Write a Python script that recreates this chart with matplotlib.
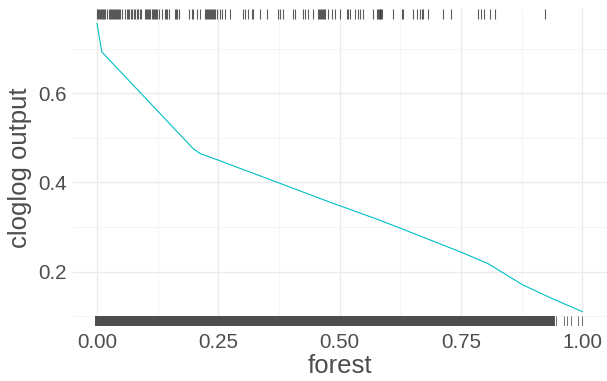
import numpy as np
import matplotlib.pyplot as plt
import matplotlib.transforms as mtransforms

# response curve for forest cover
forest = [0.000, 0.010, 0.088, 0.198, 0.212, 0.250, 0.274, 0.377, 0.479,
          0.578, 0.623, 0.751, 0.805, 0.877, 0.940, 1.000]
cloglog = [0.757, 0.693, 0.603, 0.476, 0.465, 0.450, 0.440, 0.398, 0.356,
           0.317, 0.298, 0.243, 0.218, 0.170, 0.138, 0.110]

# presence records (top rug)
presence = [0.000, 0.002, 0.004, 0.006, 0.008, 0.010, 0.012, 0.014, 0.016,
            0.021, 0.025, 0.027, 0.029, 0.031, 0.033, 0.035, 0.037, 0.039,
            0.041, 0.043, 0.045, 0.047, 0.051, 0.058, 0.061, 0.064, 0.067,
            0.070, 0.073, 0.076, 0.079, 0.082, 0.085, 0.088, 0.091, 0.099,
            0.101, 0.103, 0.105, 0.107, 0.109, 0.113, 0.115, 0.117, 0.119,
            0.121, 0.123, 0.128, 0.134, 0.140, 0.142, 0.144, 0.148, 0.160,
            0.163, 0.165, 0.169, 0.189, 0.195, 0.198, 0.206, 0.212, 0.222,
            0.224, 0.226, 0.228, 0.230, 0.232, 0.235, 0.237, 0.239, 0.241,
            0.243, 0.247, 0.253, 0.257, 0.263, 0.274, 0.300, 0.305, 0.311,
            0.319, 0.321, 0.335, 0.350, 0.372, 0.377, 0.383, 0.403, 0.407,
            0.424, 0.428, 0.434, 0.444, 0.455, 0.457, 0.459, 0.461, 0.463,
            0.465, 0.467, 0.469, 0.475, 0.484, 0.490, 0.500, 0.516, 0.518,
            0.521, 0.531, 0.537, 0.541, 0.547, 0.568, 0.576, 0.578, 0.580,
            0.582, 0.584, 0.586, 0.588, 0.609, 0.628, 0.630, 0.650, 0.660,
            0.665, 0.669, 0.671, 0.681, 0.712, 0.730, 0.784, 0.792, 0.798,
            0.809, 0.819, 0.922]

# background sample (bottom rug)
background = [
    0.000, 0.005, 0.010, 0.015, 0.020, 0.025, 0.030, 0.035, 0.040, 0.045,
    0.050, 0.055, 0.060, 0.065, 0.070, 0.075, 0.080, 0.085, 0.090, 0.095,
    0.100, 0.105, 0.110, 0.115, 0.120, 0.125, 0.130, 0.135, 0.140, 0.145,
    0.150, 0.155, 0.160, 0.165, 0.170, 0.175, 0.180, 0.185, 0.190, 0.195,
    0.200, 0.205, 0.210, 0.215, 0.220, 0.225, 0.230, 0.235, 0.240, 0.245,
    0.250, 0.255, 0.260, 0.265, 0.270, 0.275, 0.280, 0.285, 0.290, 0.295,
    0.300, 0.305, 0.310, 0.315, 0.320, 0.325, 0.330, 0.335, 0.340, 0.345,
    0.350, 0.355, 0.360, 0.365, 0.370, 0.375, 0.380, 0.385, 0.390, 0.395,
    0.400, 0.405, 0.410, 0.415, 0.420, 0.425, 0.430, 0.435, 0.440, 0.445,
    0.450, 0.455, 0.460, 0.465, 0.470, 0.475, 0.480, 0.485, 0.490, 0.495,
    0.500, 0.505, 0.510, 0.515, 0.520, 0.525, 0.530, 0.535, 0.540, 0.545,
    0.550, 0.555, 0.560, 0.565, 0.570, 0.575, 0.580, 0.585, 0.590, 0.595,
    0.600, 0.605, 0.610, 0.615, 0.620, 0.625, 0.630, 0.635, 0.640, 0.645,
    0.650, 0.655, 0.660, 0.665, 0.670, 0.675, 0.680, 0.685, 0.690, 0.695,
    0.700, 0.705, 0.710, 0.715, 0.720, 0.725, 0.730, 0.735, 0.740, 0.745,
    0.750, 0.755, 0.760, 0.765, 0.770, 0.775, 0.780, 0.785, 0.790, 0.795,
    0.800, 0.805, 0.810, 0.815, 0.820, 0.825, 0.830, 0.835, 0.840, 0.845,
    0.850, 0.855, 0.860, 0.865, 0.870, 0.875, 0.880, 0.885, 0.890, 0.895,
    0.900, 0.905, 0.910, 0.915, 0.920, 0.925, 0.930, 0.935, 0.940,
]
background_tail = [0.946, 0.963, 0.969, 0.977, 0.990, 1.000]

plt.rcParams['font.family'] = ['Liberation Sans', 'DejaVu Sans']

fig = plt.figure(figsize=(6.07, 3.81), dpi=100)
ax = fig.add_axes([72.7 / 607, 55 / 381, 534 / 607, 317 / 381])

# ggplot style expansion of 5% on both axes
ax.set_xlim(-0.05, 1.05)
lo, hi = min(cloglog), max(cloglog)
pad = 0.05 * (hi - lo)
ax.set_ylim(lo - pad, hi + pad)

ax.set_xticks([0, 0.25, 0.5, 0.75, 1.0])
ax.set_xticklabels(['0.00', '0.25', '0.50', '0.75', '1.00'])
ax.set_xticks([0.125, 0.375, 0.625, 0.875], minor=True)
ax.set_yticks([0.2, 0.4, 0.6])
ax.set_yticklabels(['0.2', '0.4', '0.6'])
ax.set_yticks([0.1, 0.3, 0.5, 0.7], minor=True)

ax.grid(which='major', color='#EBEBEB', linewidth=1.0)
ax.grid(which='minor', color='#F4F4F4', linewidth=0.6)
ax.set_axisbelow(True)
for s in ax.spines.values():
    s.set_visible(False)
ax.tick_params(which='both', length=0)
ax.tick_params(axis='x', labelsize=14.8, labelcolor='#4D4D4D', pad=5)
ax.tick_params(axis='y', labelsize=14.8, labelcolor='#4D4D4D', pad=4)

ax.plot(forest, cloglog, color='#00BFC4', linewidth=0.8)

# rugs along the top (presence) and bottom (background)
trans = mtransforms.blended_transform_factory(ax.transData, ax.transAxes)
rug = 0.032
ax.vlines(presence, 1 - rug, 1, transform=trans, color='#333333',
          alpha=0.8, linewidth=0.8)
ax.vlines(background, 0, rug, transform=trans, color='#4D4D4D',
          linewidth=2.8)
ax.vlines(background_tail, 0, rug, transform=trans, color='#4D4D4D',
          alpha=0.8, linewidth=0.7)

ax.set_xlabel('forest', fontsize=18.5, color='#4D4D4D')
ax.set_ylabel('cloglog output', fontsize=18.5, color='#4D4D4D')
ax.xaxis.set_label_coords(0.5, -0.088)
ax.yaxis.set_label_coords(-0.076, 0.5)

fig.savefig('out.png', dpi=100)
